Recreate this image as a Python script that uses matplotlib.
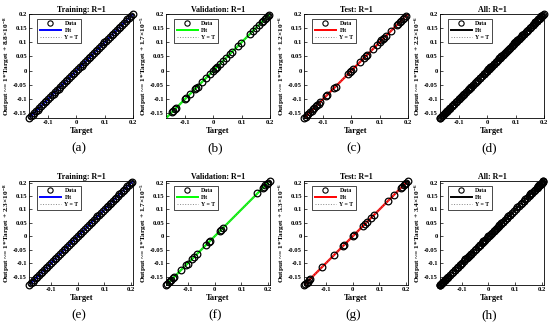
import matplotlib
matplotlib.use("Agg")
import matplotlib.pyplot as plt
from matplotlib.lines import Line2D

plt.rcParams["font.family"] = ["Liberation Serif", "DejaVu Serif"]
plt.rcParams["mathtext.fontset"] = "custom"
plt.rcParams["mathtext.rm"] = "Liberation Serif:bold"
plt.rcParams["mathtext.it"] = "Liberation Serif:bold:italic"
plt.rcParams["mathtext.bf"] = "Liberation Serif:bold"

# ── data: targets (outputs sit on Y = T since R = 1) ──
train_a = [-0.167, -0.161, -0.155, -0.149, -0.143, -0.137, -0.131, -0.125, -0.117, -0.111,
           -0.106, -0.100, -0.094, -0.087, -0.081, -0.075, -0.069, -0.063, -0.057, -0.050,
           -0.044, -0.038, -0.032, -0.026, -0.020, -0.013, -0.007, -0.001, 0.005, 0.011,
           0.018, 0.024, 0.030, 0.037, 0.043, 0.049, 0.055, 0.061, 0.068, 0.074,
           0.080, 0.086, 0.093, 0.099, 0.105, 0.111, 0.118, 0.124, 0.130, 0.136,
           0.143, 0.149, 0.155, 0.161, 0.168, 0.174, 0.180, 0.186, 0.193, 0.200]
val_b = [-0.146, -0.141, -0.136, -0.131, -0.101, -0.096, -0.081, -0.066, -0.061, -0.056,
         -0.041, -0.026, -0.011, 0.000, 0.004, 0.009, 0.014, 0.024, 0.034, 0.044,
         0.060, 0.065, 0.086, 0.096, 0.130, 0.141, 0.151, 0.160, 0.170, 0.176,
         0.181, 0.186, 0.191, 0.196]
test_c = [-0.167, -0.162, -0.157, -0.152, -0.146, -0.141, -0.136, -0.131, -0.126, -0.121,
          -0.116, -0.111, -0.091, -0.086, -0.061, -0.056, -0.011, -0.006, 0.000, 0.006,
          0.031, 0.046, 0.050, 0.055, 0.076, 0.091, 0.100, 0.106, 0.111, 0.116,
          0.121, 0.141, 0.160, 0.165, 0.170, 0.176, 0.181, 0.186, 0.191]
train_e = [-0.180, -0.174, -0.168, -0.162, -0.156, -0.150, -0.144, -0.138, -0.132, -0.126,
           -0.119, -0.113, -0.106, -0.099, -0.092, -0.086, -0.079, -0.072, -0.066, -0.059,
           -0.052, -0.046, -0.039, -0.032, -0.026, -0.019, -0.012, -0.006, 0.001, 0.008,
           0.014, 0.021, 0.028, 0.034, 0.041, 0.048, 0.054, 0.061, 0.068, 0.074,
           0.081, 0.088, 0.094, 0.101, 0.108, 0.114, 0.120, 0.126, 0.132, 0.138,
           0.144, 0.150, 0.156, 0.162, 0.168, 0.174, 0.180, 0.186, 0.192, 0.198, 0.204]
val_f = [-0.180, -0.176, -0.171, -0.166, -0.161, -0.156, -0.151, -0.126, -0.106, -0.101,
         -0.086, -0.076, -0.066, -0.031, -0.021, -0.016, 0.020, 0.025, 0.030, 0.160,
         0.180, 0.185, 0.190, 0.195, 0.200, 0.205]
test_g = [-0.180, -0.176, -0.172, -0.168, -0.164, -0.160, -0.115, -0.070, -0.036, -0.031,
          0.000, 0.004, 0.040, 0.046, 0.055, 0.070, 0.080, 0.131, 0.155, 0.180,
          0.185, 0.190, 0.195, 0.200, 0.205]

titles = ["Training: R=1", "Validation: R=1", "Test: R=1", "All: R=1"] * 2
fit_mant = ["8.8", "1.7", "1.2", "2.2", "2.3", "1.7", "5.3", "3.4"]
fit_exp = ["-8", "-5", "-6", "-6", "-8", "-5", "-6", "-6"]
fit_colors = ["#0000ff", "#00ff00", "#ff0000", "#000000"] * 2
panel_tags = ["(a)", "(b)", "(c)", "(d)", "(e)", "(f)", "(g)", "(h)"]
datasets = [train_a, val_b, test_c, train_a + val_b + test_c,
            train_e, val_f, test_g, train_e + val_f + test_g]
row_lims = [(-0.167, 0.2), (-0.181, 0.207)]

yticks = [-0.15, -0.1, -0.05, 0, 0.05, 0.1, 0.15, 0.2]
ytick_labels = ["-0.15", "-0.1", "-0.05", "0", "0.05", "0.1", "0.15", "0.2"]
xticks = [-0.1, 0, 0.1, 0.2]
xtick_labels = ["-0.1", "0", "0.1", "0.2"]

fig = plt.figure(figsize=(5.5, 3.28), dpi=100)
lefts = [0.053, 0.302, 0.553, 0.800]
bottoms = [0.640, 0.131]
W, H = 0.189, 0.318

for i in range(8):
    r, c = divmod(i, 4)
    ax = fig.add_axes([lefts[c], bottoms[r], W, H])
    lo, hi = row_lims[r]
    t = datasets[i]
    ax.plot([lo, hi], [lo, hi], color=fit_colors[i], lw=1.6, zorder=2)
    ax.plot([lo, hi], [lo, hi], color="#888888", lw=0.7, ls=":", zorder=3)
    ax.plot(t, t, ls="none", marker="o", ms=4.8, mfc="none", mec="black", mew=0.9,
            zorder=4, clip_on=False)
    ax.set_xlim(lo, hi)
    ax.set_ylim(lo, hi)
    ax.set_xticks(xticks)
    ax.set_xticklabels(xtick_labels)
    ax.set_yticks(yticks)
    ax.set_yticklabels(ytick_labels)
    ax.tick_params(direction="in", length=2, width=0.5, labelsize=4.8, pad=1.5)
    for lab in ax.get_xticklabels() + ax.get_yticklabels():
        lab.set_fontweight("bold")
    for s in ax.spines.values():
        s.set_linewidth(0.6)
    ax.set_title(titles[i], fontsize=5.8, fontweight="bold", pad=1.5)
    ax.set_xlabel("Target", fontsize=6.0, fontweight="bold", labelpad=1.5)
    ax.set_ylabel("Output ~= 1*Target + " + fit_mant[i] + "×10$^{" + fit_exp[i] + "}$",
                  fontsize=5.3, fontweight="bold", labelpad=1)
    handles = [Line2D([], [], ls="none", marker="o", ms=3.8, mfc="none", mec="black", mew=0.8),
               Line2D([], [], color=fit_colors[i], lw=1.4),
               Line2D([], [], color="#888888", lw=0.7, ls=":")]
    leg = ax.legend(handles, ["Data", "Fit", "Y = T"], loc="upper left",
                    bbox_to_anchor=(0.05, 0.98), prop={"size": 4.2, "weight": "bold"},
                    handlelength=3.6, handletextpad=0.6, borderpad=0.45, labelspacing=0.3,
                    fancybox=False, edgecolor="black", framealpha=1)
    leg.get_frame().set_linewidth(0.5)
    fig.text(lefts[c] + W / 2 - 0.005, bottoms[r] - 0.092, panel_tags[i],
             ha="center", va="center", fontsize=9.5)

fig.savefig("out.png", dpi=100)
